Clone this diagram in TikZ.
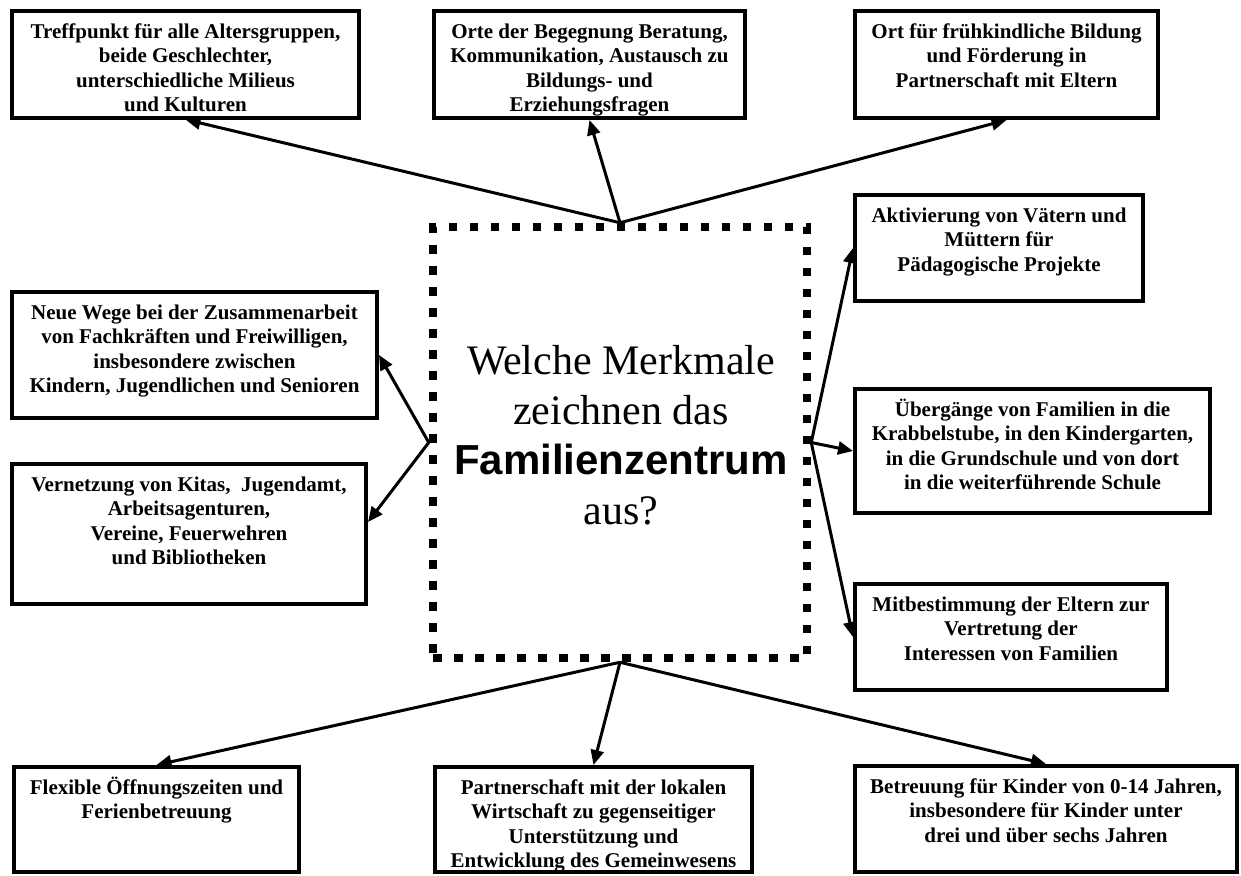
\documentclass[tikz,border=0pt]{standalone}
\usepackage{fontspec}
\setmainfont{Liberation Serif}
\newfontfamily\arialfont{Liberation Sans}
\usetikzlibrary{arrows.meta,calc}
\newcommand{\fstrut}{\rule{0pt}{20pt}}
\begin{document}
\begin{tikzpicture}[x=1pt,y=-1pt,
  box/.style={draw, rectangle, line width=4pt, inner sep=0pt},
  txt/.style={anchor=north, inner sep=0pt, align=center, font=\bfseries\fontsize{21}{24.5}\selectfont},
  arr/.style={line width=3pt, -{Triangle[length=15pt,width=13pt]}},
  hub/.style={draw, rectangle, line width=8.5pt, dash pattern=on 8.5pt off 12.5pt, inner sep=0pt}]
\fill[white] (0,0) rectangle (1241,875);
\useasboundingbox (0,0) rectangle (1241,875);

% central box
\node[hub, minimum width=374pt, minimum height=431pt] (c) at (620,442.5) {};
\node[inner sep=0pt, align=center, font=\fontsize{42}{50}\selectfont] (ct) at (621,435)
  {Welche Merkmale\\zeichnen das\\{\arialfont\bfseries Familienzentrum}\\aus?};

% boxes
\node[box, minimum width=347pt, minimum height=106.5pt] (b1) at (185.5,64.25) {};
\node[box, minimum width=311pt, minimum height=107pt] (b2) at (589.5,64.5) {};
\node[box, minimum width=303pt, minimum height=107pt] (b3) at (1006.5,64.5) {};
\node[box, minimum width=288pt, minimum height=106pt] (b4) at (999,248) {};
\node[box, minimum width=355pt, minimum height=124pt] (b5) at (1032.5,451) {};
\node[box, minimum width=312pt, minimum height=106pt] (b6) at (1011,637) {};
\node[box, minimum width=365pt, minimum height=126pt] (b7) at (194.5,355) {};
\node[box, minimum width=354pt, minimum height=140pt] (b8) at (189,534) {};
\node[box, minimum width=285pt, minimum height=105pt] (b9) at (156.5,819.5) {};
\node[box, minimum width=317pt, minimum height=105pt] (b10) at (593.5,819.5) {};
\node[box, minimum width=382pt, minimum height=106pt] (b11) at (1046,819) {};

% texts
\node[txt] (t1) at ($(b1.north)+(0,9)$) {\fstrut Treffpunkt für alle Altersgruppen,\\beide Geschlechter,\\unterschiedliche Milieus\\und Kulturen};
\node[txt] (t2) at ($(b2.north)+(0,9)$) {\fstrut Orte der Begegnung Beratung,\\Kommunikation, Austausch zu\\Bildungs- und\\Erziehungsfragen};
\node[txt] (t3) at ($(b3.north)+(0,9)$) {\fstrut Ort für frühkindliche Bildung\\und Förderung in\\Partnerschaft mit Eltern};
\node[txt] (t4) at ($(b4.north)+(0,9)$) {\fstrut Aktivierung von Vätern und\\Müttern für\\Pädagogische Projekte};
\node[txt] (t5) at ($(b5.north)+(0,9)$) {\fstrut Übergänge von Familien in die\\Krabbelstube, in den Kindergarten,\\in die Grundschule und von dort\\in die weiterführende Schule};
\node[txt] (t6) at ($(b6.north)+(0,9)$) {\fstrut Mitbestimmung der Eltern zur\\Vertretung der\\Interessen von Familien};
\node[txt] (t7) at ($(b7.north)+(0,9)$) {\fstrut Neue Wege bei der Zusammenarbeit\\von Fachkräften und Freiwilligen,\\insbesondere zwischen\\Kindern, Jugendlichen und Senioren};
\node[txt] (t8) at ($(b8.north)+(0,9)$) {\fstrut Vernetzung von Kitas,~ Jugendamt,\\Arbeitsagenturen,\\Vereine, Feuerwehren\\und Bibliotheken};
\node[txt] (t9) at ($(b9.north)+(0,9)$) {\fstrut Flexible Öffnungszeiten und\\Ferienbetreuung};
\node[txt] (t10) at ($(b10.north)+(0,9)$) {\fstrut Partnerschaft mit der lokalen\\Wirtschaft zu gegenseitiger\\Unterstützung und\\Entwicklung des Gemeinwesens};
\node[txt] (t11) at ($(b11.north)+(0,9)$) {\fstrut Betreuung für Kinder von 0-14 Jahren,\\insbesondere für Kinder unter\\drei und über sechs Jahren};

% connectors
\draw[arr] (c.north) -- (b1.south);
\draw[arr] (c.north) -- (b2.south);
\draw[arr] (c.north) -- (b3.south);
\draw[arr] (c.east) -- (b4.west);
\draw[arr] (c.east) -- (b5.west);
\draw[arr] (c.east) -- (b6.west);
\draw[arr] (c.west) -- (b7.east);
\draw[arr] (c.west) -- ($(b8.north east)+(0,60)$);
\draw[arr] (c.south) -- (b9.north);
\draw[arr] (c.south) -- (b10.north);
\draw[arr] (c.south) -- (b11.north);
\end{tikzpicture}
\end{document}
